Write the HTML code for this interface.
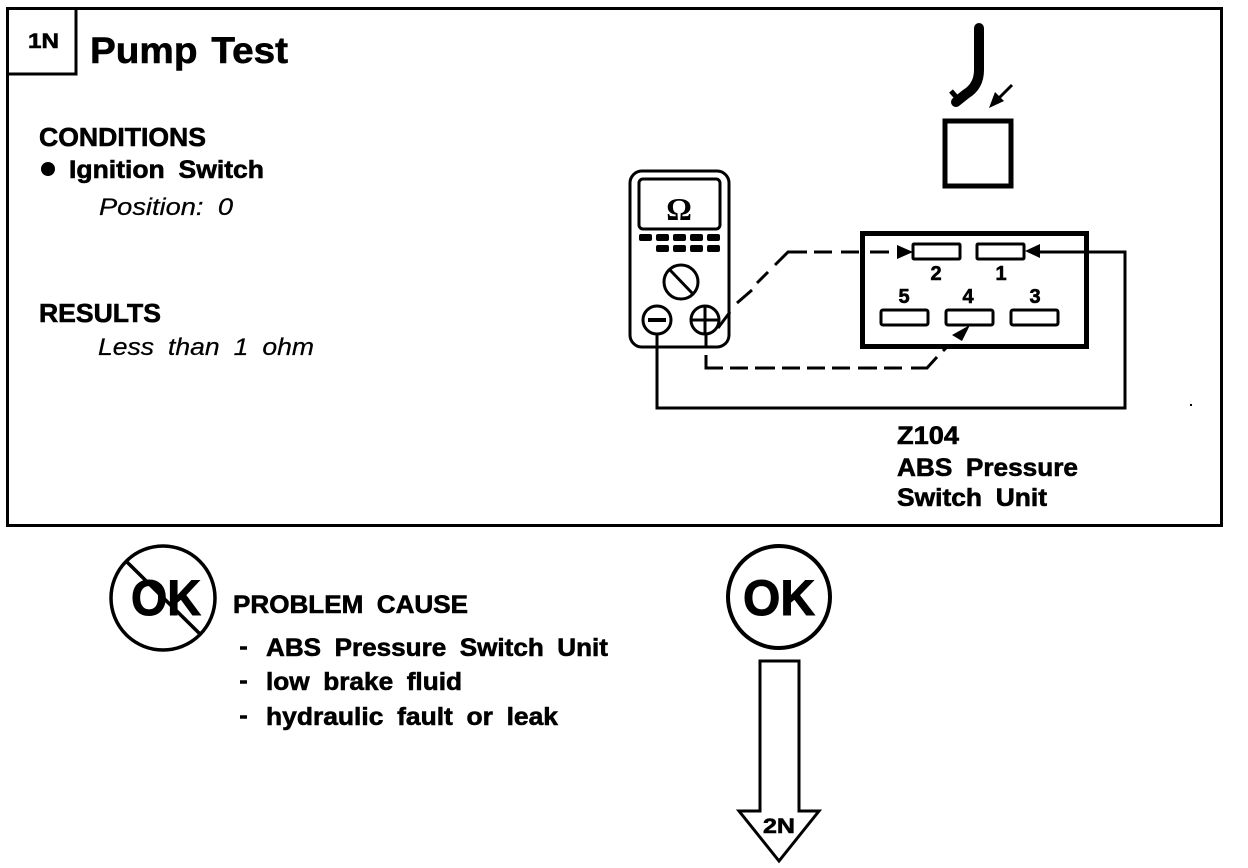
<!DOCTYPE html>
<html>
<head>
<meta charset="utf-8">
<style>
html,body{margin:0;padding:0;background:#fff;width:1248px;height:868px;overflow:hidden}
svg{display:block}
text{font-family:"Liberation Sans",sans-serif;fill:#000}
.b{font-weight:bold;stroke:#000;stroke-width:.6}
.i{font-style:italic;stroke:#000;stroke-width:.25}
.w{word-spacing:6px}
</style>
</head>
<body>
<svg width="1248" height="868" viewBox="0 0 1248 868" fill="none" stroke="#000">
<rect x="0" y="0" width="1248" height="868" fill="#fff" stroke="none"/>
<rect x="7.5" y="8.5" width="1214" height="517" stroke-width="3"/>
<path d="M8 74H76V8" stroke-width="3"/>
<text class="b" x="28" y="48" font-size="21" textLength="31" lengthAdjust="spacingAndGlyphs">1N</text>
<text class="b" x="90" y="63" font-size="37" textLength="198" lengthAdjust="spacingAndGlyphs" style="word-spacing:3px">Pump Test</text>

<text class="b" x="39" y="146" font-size="26" textLength="167" lengthAdjust="spacingAndGlyphs">CONDITIONS</text>
<circle cx="48" cy="169" r="7" fill="#000" stroke="none"/>
<text class="b w" x="69" y="178" font-size="25" textLength="195" lengthAdjust="spacingAndGlyphs">Ignition Switch</text>
<text class="i w" x="99" y="215" font-size="24" textLength="134" lengthAdjust="spacingAndGlyphs">Position: 0</text>
<text class="b" x="39" y="322" font-size="26" textLength="122" lengthAdjust="spacingAndGlyphs">RESULTS</text>
<text class="i w" x="98" y="355" font-size="24" textLength="216" lengthAdjust="spacingAndGlyphs">Less than 1 ohm</text>

<!-- connector hose -->
<path d="M979 28V70Q979 86 966 94L956 102" stroke-width="10" stroke-linecap="round"/>
<path d="M951 91L958 99" stroke-width="5"/>
<path d="M1012 85L994 103" stroke-width="3"/>
<path d="M989 108L995 92L1004 101Z" fill="#000" stroke="none"/>
<rect x="945" y="121" width="66" height="65" stroke-width="5"/>

<!-- meter -->
<rect x="630" y="171" width="99" height="176" rx="12" stroke-width="3"/>
<rect x="639" y="179" width="81" height="50" rx="4" stroke-width="3"/>
<text x="679" y="220" font-size="32" font-weight="bold" text-anchor="middle" stroke="none" style="font-family:'Liberation Serif',serif">Ω</text>
<g fill="#000" stroke="none">
<rect x="639" y="234" width="13" height="7" rx="2"/><rect x="656" y="234" width="13" height="7" rx="2"/><rect x="673" y="234" width="13" height="7" rx="2"/><rect x="690" y="234" width="13" height="7" rx="2"/><rect x="707" y="234" width="13" height="7" rx="2"/>
<rect x="656" y="245" width="13" height="7" rx="2"/><rect x="673" y="245" width="13" height="7" rx="2"/><rect x="690" y="245" width="13" height="7" rx="2"/><rect x="707" y="245" width="13" height="7" rx="2"/>
</g>
<circle cx="681" cy="282" r="17" stroke-width="3"/>
<path d="M670 270L693 294" stroke-width="3"/>
<circle cx="657" cy="320" r="14" stroke-width="3"/>
<path d="M648 320H666" stroke-width="4"/>
<circle cx="705" cy="320" r="14" stroke-width="3"/>
<path d="M691 320H719M705 306V334" stroke-width="3"/>

<!-- unit -->
<rect x="862.5" y="233.5" width="224" height="113" stroke-width="5"/>
<rect x="913" y="244" width="47" height="15" rx="1" stroke-width="3"/>
<rect x="977" y="244" width="47" height="15" rx="1" stroke-width="3"/>
<rect x="881" y="310" width="47" height="15" rx="2" stroke-width="3"/>
<rect x="946" y="310" width="47" height="15" rx="2" stroke-width="3"/>
<rect x="1011" y="310" width="47" height="15" rx="2" stroke-width="3"/>
<text class="b" x="936" y="280" text-anchor="middle" font-size="20">2</text>
<text class="b" x="1001" y="280" text-anchor="middle" font-size="20">1</text>
<text class="b" x="904" y="303" text-anchor="middle" font-size="20">5</text>
<text class="b" x="968" y="303" text-anchor="middle" font-size="20">4</text>
<text class="b" x="1035" y="303" text-anchor="middle" font-size="20">3</text>

<!-- wires -->
<path d="M718 328L730 312M737 303L752 290M757 283L768 272M775 265L788 252H807M814 252H832M841 252H859M870 252H889" stroke-width="3"/>
<path d="M913 252L897 245V259Z" fill="#000" stroke="none"/>
<path d="M706 334V347M706 355V368H723M730 368H748M755 368H775M782 368H800M807 368H825M832 368H850M858 368H877M884 368H902M911 368H927L937 357M943 351L946 348" stroke-width="3"/>
<path d="M970 325L952 335L962 341Z" fill="#000" stroke="none"/>
<path d="M657 334V408H1125V252H1038" stroke-width="3"/>
<path d="M1025 251L1040 244V258Z" fill="#000" stroke="none"/>
<rect x="1190" y="404" width="2" height="2" fill="#000" stroke="none"/>

<text class="b" x="897" y="444" font-size="25" textLength="62" lengthAdjust="spacingAndGlyphs">Z104</text>
<text class="b w" x="897" y="476" font-size="25" textLength="181" lengthAdjust="spacingAndGlyphs">ABS Pressure</text>
<text class="b w" x="897" y="506" font-size="25" textLength="150" lengthAdjust="spacingAndGlyphs">Switch Unit</text>

<!-- NOT OK -->
<circle cx="163" cy="598" r="52" stroke-width="3.5"/>
<path d="M127 562L200 634" stroke-width="3.5"/>
<text x="166" y="615" font-size="50" font-weight="bold" text-anchor="middle" stroke="#000" stroke-width="1" fill="#000" textLength="70" lengthAdjust="spacingAndGlyphs">OK</text>

<text class="b w" x="233" y="613" font-size="25" textLength="235" lengthAdjust="spacingAndGlyphs">PROBLEM CAUSE</text>
<path d="M240 648H247M240 682H247M240 717H247" stroke-width="3.5"/>
<text class="b w" x="266" y="656" font-size="25" textLength="342" lengthAdjust="spacingAndGlyphs">ABS Pressure Switch Unit</text>
<text class="b w" x="266" y="690" font-size="25" textLength="196" lengthAdjust="spacingAndGlyphs">low brake fluid</text>
<text class="b w" x="266" y="725" font-size="25" textLength="292" lengthAdjust="spacingAndGlyphs">hydraulic fault or leak</text>

<!-- OK -->
<circle cx="779" cy="597" r="51" stroke-width="4"/>
<text x="779" y="615" font-size="50" font-weight="bold" text-anchor="middle" stroke="#000" stroke-width="1" fill="#000" textLength="72" lengthAdjust="spacingAndGlyphs">OK</text>

<!-- Down arrow -->
<path d="M760 811V661H799V811H819L779 861L739 811Z" stroke-width="3" stroke-linejoin="miter" fill="#fff"/>
<text class="b" x="763" y="833" font-size="21" textLength="32" lengthAdjust="spacingAndGlyphs">2N</text>
</svg>
</body>
</html>
